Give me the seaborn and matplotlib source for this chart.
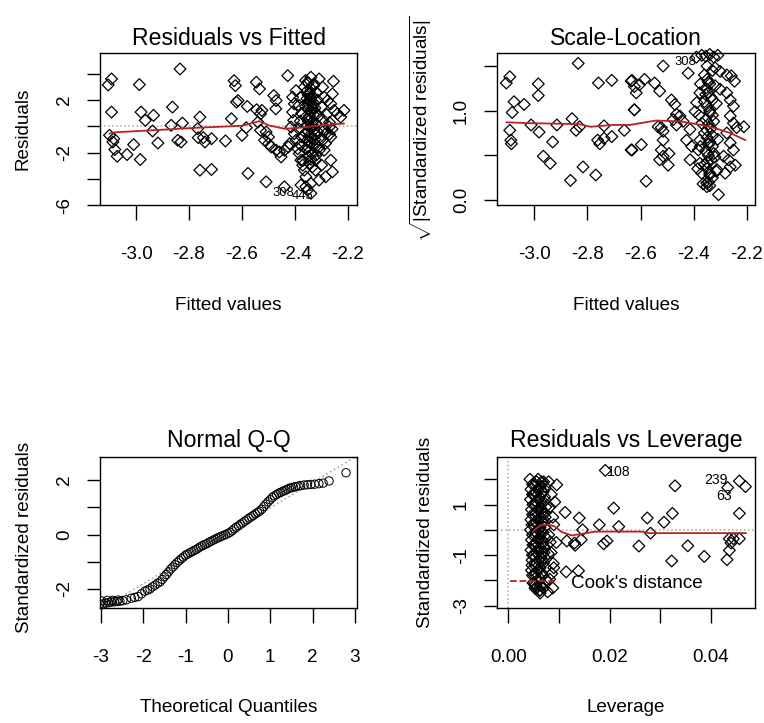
import matplotlib
matplotlib.use("Agg")
import matplotlib.pyplot as plt
from matplotlib import font_manager
from matplotlib.lines import Line2D
import seaborn as sns

# ---------------- data ----------------
# Panel 1: Residuals vs Fitted
rf_x = [-3.105, -3.0925, -3.0925, -3.10, -3.084, -3.0875, -3.08, -3.071, -3.034, -3.009,
        -2.984, -2.9875, -2.981, -2.965, -2.934, -2.9375, -2.9175, -2.8625, -2.8675, -2.825,
        -2.8425, -2.83, -2.834, -2.759, -2.7675, -2.765, -2.746, -2.74, -2.715, -2.6625,
        -2.759, -2.715, -2.64, -2.63, -2.625, -2.621,
        -2.615, -2.58, -2.546, -2.534, -2.545, -2.525, -2.53, -2.54, -2.584, -2.6,
        -2.53, -2.509, -2.5, -2.48, -2.471, -2.4725, -2.515, -2.5, -2.49, -2.471,
        -2.459, -2.4525, -2.44, -2.425, -2.42, -2.4275, -2.409, -2.396, -2.4025, -2.409,
        -2.405, -2.415, -2.4025, -2.396, -2.39, -2.384, -2.3775, -2.371, -2.365, -2.359,
        -2.3525, -2.34, -2.3275, -2.309, -2.296, -2.29, -2.2775, -2.255, -2.259, -2.265,
        -2.2525, -2.24, -2.215, -2.2275, -2.271, -2.284, -2.296, -2.265, -2.309, -2.29,
        -2.3225, -2.30, -2.265, -2.259, -2.284, -2.309, -2.3225, -2.5775, -2.509, -2.44,
        -2.3775, -2.359, -2.34, -2.3525, -2.34,
        -2.365, -2.355, -2.345, -2.335, -2.355, -2.345, -2.335, -2.36, -2.35, -2.34,
        -2.33, -2.36, -2.345, -2.335, -2.355, -2.34, -2.33, -2.36, -2.345, -2.335,
        -2.355, -2.34, -2.33, -2.36, -2.345, -2.335, -2.35, -2.34, -2.345, -2.335,
        -2.32, -2.315, -2.325, -2.31, -2.32, -2.315, -2.325, -2.31, -2.32,
        -2.38, -2.385, -2.375, -2.38, -2.385, -2.375, -2.38, -2.37,
        -2.30, -2.295, -2.29, -2.28, -2.27, -2.26, -2.30, -2.285, -2.27,
        -2.35, -2.34, -2.33, -2.36,
        -2.35, -2.34, -2.35, -2.34, -2.345, -2.35, -2.34, -2.35, -2.34, -2.345,
        -2.35, -2.34, -2.33, -2.325, -2.33, -2.325, -2.345, -2.335]
rf_y = [3.16, 3.62, 1.09, -0.68, -0.94, -1.19, -1.77, -2.28, -2.15, -1.39,
        -2.53, 3.19, 1.09, 0.46, 0.84, -0.35, -1.27, 1.47, 0.08, 0.25,
        -1.06, -1.19, 4.38, 0.71, -0.18, -0.86, -0.86, -1.19, -0.94, -1.11,
        -3.34, -3.29, 0.58, 3.49, 3.11, 1.85,
        1.97, 1.52, 3.37, 2.86, 1.27, 1.22, 0.96, 0.33, -0.10, -0.68,
        -0.30, -0.43, -0.81, 2.35, 1.97, 1.34, -1.06, -1.32, -1.57, -1.82,
        -1.95, -2.33, -1.82, -1.57, -1.32, 3.87, 2.23, 2.73, 1.72, 1.09,
        0.46, -0.05, -0.56, -1.06, -1.70, -2.08, -2.58, -2.96, -3.34, -3.85,
        3.37, 3.75, 3.24, 3.62, 2.99, 2.23, 1.97, 3.44, 2.48, 1.72,
        1.22, 0.96, 1.22, 0.71, -0.05, -0.56, -1.06, -0.81, -1.82, -1.82,
        -2.58, -2.96, -2.58, -3.47, -3.85, -4.10, -3.34, -3.59, -4.23, -4.61,
        -4.48, -4.61, -4.35, -4.86, -5.11,
        3.0, 2.7, 2.5, 2.3, 2.1, 1.9, 1.7, 1.5, 1.3, 1.1,
        0.9, 0.7, 0.5, 0.3, 0.1, -0.1, -0.3, -0.5, -0.7, -0.9,
        -1.1, -1.3, -1.5, -1.7, -1.9, -2.1, -2.3, -2.5, -2.8, -3.1,
        2.6, 2.0, 1.4, 0.8, 0.2, -0.4, -1.0, -1.6, -2.2,
        2.2, 1.6, 1.0, 0.4, -0.2, -0.8, -1.4, -2.6,
        1.5, 0.5, -0.3, 0.9, 0.3, -0.2, -0.9, -1.3, -0.6,
        3.3, 2.9, 3.1, 3.5,
        2.4, 2.0, 1.6, 1.2, 0.8, 0.4, 0.0, -0.4, -0.8, -1.2,
        -1.6, 2.2, 1.8, 1.0, 0.0, -0.6, 2.6, 1.4]
rf_smooth_x = [-3.10, -3.08, -2.94, -2.765, -2.65, -2.60, -2.534, -2.50, -2.44, -2.3775, -2.3025, -2.215]
rf_smooth_y = [-0.56, -0.45, -0.30, -0.10, 0.0, 0.05, 0.40, 0.08, -0.18, -0.10, 0.08, 0.22]
rf_labels = ["308", "445"]
rf_label_x = [-2.445, -2.37]
rf_label_y = [-5.1, -5.3]

# Panel 2: Scale-Location
sl_x = [-3.104, -3.091, -3.075, -3.082, -3.091, -3.087, -3.085, -3.037, -3.011, -2.984,
        -2.984, -2.981, -2.965, -2.939, -2.930, -2.914, -2.857, -2.863, -2.842, -2.829,
        -2.834, -2.816, -2.768, -2.758, -2.708, -2.737, -2.761, -2.753, -2.737, -2.708,
        -2.661, -2.632, -2.632, -2.623,
        -2.635, -2.623, -2.616, -2.585, -2.604, -2.547, -2.528, -2.515, -2.623, -2.597,
        -2.635, -2.579, -2.534, -2.522, -2.515, -2.515, -2.522, -2.515, -2.528, -2.496,
        -2.493, -2.484, -2.471, -2.465, -2.477, -2.452, -2.465, -2.440, -2.421, -2.414,
        -2.427, -2.408, -2.414, -2.389, -2.395, -2.377, -2.370, -2.377, -2.383, -2.377,
        -2.370, -2.351, -2.351, -2.307, -2.313, -2.282, -2.263, -2.244, -2.320, -2.301,
        -2.276, -2.259, -2.247, -2.301, -2.276, -2.263, -2.251, -2.263, -2.251, -2.239,
        -2.212, -2.276, -2.263, -2.251, -2.288, -2.270,
        -2.36, -2.35, -2.34, -2.355, -2.345, -2.335, -2.36, -2.35, -2.34, -2.33,
        -2.355, -2.345, -2.335, -2.36, -2.35, -2.34, -2.33, -2.355, -2.345, -2.335,
        -2.36, -2.35, -2.34, -2.33, -2.345, -2.32, -2.315, -2.325, -2.31, -2.32,
        -2.315, -2.375, -2.38, -2.375, -2.385, -2.365, -2.34, -2.33, -2.35,
        -2.39, -2.37, -2.355, -2.34, -2.325, -2.31,
        -2.345, -2.355, -2.34, -2.35, -2.345, -2.35, -2.34, -2.33, -2.33, -2.325]
sl_y = [1.31, 1.38, 1.10, 0.98, 0.78, 0.67, 0.63, 1.07, 0.84, 1.30,
        1.17, 0.76, 0.49, 0.41, 0.65, 0.84, 0.91, 0.22, 0.78, 0.82,
        1.53, 0.37, 0.28, 1.31, 1.34, 0.83, 0.67, 0.63, 0.69, 0.71,
        0.78, 0.56, 1.34, 1.01,
        1.33, 1.27, 1.20, 1.35, 1.29, 1.31, 1.22, 1.50, 1.01, 0.62,
        0.56, 0.21, 0.82, 0.81, 0.77, 0.67, 0.56, 0.49, 0.45, 0.39,
        0.52, 1.12, 1.07, 0.96, 0.90, 0.94, 0.84, 0.88, 1.42, 0.79,
        0.67, 0.60, 0.45, 1.09, 0.99, 1.20, 0.86, 0.67, 0.56, 0.41,
        0.30, 0.19, 0.15, 0.06, 0.34, 0.30, 0.37, 0.39, 1.48, 1.44,
        1.40, 1.39, 1.33, 1.24, 1.20, 1.12, 1.05, 0.94, 0.86, 0.81,
        0.82, 0.75, 0.64, 0.56, 0.49, 0.45,
        1.40, 1.35, 1.30, 1.25, 1.20, 1.15, 1.10, 1.05, 1.00, 0.95,
        0.90, 0.85, 0.80, 0.75, 0.70, 0.65, 0.60, 0.55, 0.50, 0.45,
        0.40, 0.35, 0.30, 0.25, 0.20, 1.28, 1.08, 0.88, 0.68, 0.48,
        0.32, 1.30, 0.95, 0.60, 0.35, 0.18, 0.16, 1.45, 1.50,
        1.60, 1.62, 1.61, 1.63, 1.60, 1.62,
        1.32, 1.18, 0.98, 0.78, 0.62, 0.42, 0.28, 1.12, 0.72, 0.52]
sl_smooth_x = [-3.104, -3.011, -2.832, -2.787, -2.705, -2.642, -2.541, -2.452, -2.389, -2.326, -2.263, -2.206]
sl_smooth_y = [0.87, 0.86, 0.85, 0.82, 0.84, 0.84, 0.89, 0.88, 0.85, 0.81, 0.75, 0.67]
sl_labels = ["308"]
sl_label_x = [-2.43]
sl_label_y = [1.55]

# Panel 3: Normal Q-Q
qq_x = [-3.03, -2.95, -2.88, -2.82, -2.75, -2.68, -2.62, -2.55, -2.48, -2.40,
        -2.98, -2.85, -2.72, -2.60,
        -2.28, -2.20, -2.12, -2.04, -1.96, -1.90, -1.84, -1.78, -1.72, -1.66,
        -1.60, -1.55, -1.50, -1.45, -1.40, -1.35, -1.30, -1.25, -1.20, -1.15,
        -1.10, -1.05, -1.00, -0.95, -0.90, -0.85, -0.80, -0.75, -0.70, -0.65,
        -0.60, -0.55, -0.50, -0.45, -0.40, -0.35, -0.30, -0.25, -0.20, -0.15,
        -0.10, -0.05, 0.00, 0.05, 0.10, 0.15, 0.20, 0.25, 0.30, 0.35,
        0.40, 0.45, 0.50, 0.55, 0.60, 0.65, 0.70, 0.75, 0.80, 0.85,
        0.90, 0.95, 1.00, 1.05, 1.10, 1.15, 1.20, 1.25, 1.30, 1.35,
        1.40, 1.45, 1.50, 1.55, 1.60, 1.66, 1.72, 1.80, 1.88, 1.96,
        2.05, 2.15, 2.25, 2.39, 2.79]
qq_y = [-2.56, -2.55, -2.52, -2.50, -2.48, -2.47, -2.46, -2.45, -2.43, -2.40,
        -2.44, -2.42, -2.42, -2.41,
        -2.34, -2.31, -2.28, -2.18, -2.08, -2.04, -2.00, -1.92, -1.86, -1.79,
        -1.74, -1.65, -1.55, -1.47, -1.37, -1.27, -1.19, -1.11, -1.03, -0.96,
        -0.89, -0.83, -0.76, -0.72, -0.67, -0.63, -0.59, -0.55, -0.50, -0.45,
        -0.41, -0.37, -0.34, -0.29, -0.25, -0.21, -0.17, -0.13, -0.10, -0.06,
        -0.03, 0.00, 0.04, 0.08, 0.14, 0.21, 0.27, 0.32, 0.38, 0.43,
        0.49, 0.54, 0.60, 0.65, 0.70, 0.76, 0.81, 0.86, 0.93, 1.03,
        1.12, 1.20, 1.28, 1.36, 1.42, 1.47, 1.52, 1.55, 1.59, 1.62,
        1.66, 1.70, 1.72, 1.74, 1.76, 1.78, 1.80, 1.82, 1.83, 1.84,
        1.85, 1.87, 1.89, 1.97, 2.27]
qq_line_intercept = 0.05
qq_line_slope = 0.93

# Panel 4: Residuals vs Leverage
lv_x = [0.01917, 0.00959, 0.01124, 0.01402, 0.01468, 0.01157, 0.01309, 0.01322, 0.01441, 0.01144,
        0.01388, 0.01798, 0.02083, 0.02182, 0.01884, 0.01950, 0.02579, 0.02744, 0.02810, 0.03074,
        0.03240, 0.03292, 0.03226, 0.03544, 0.03868, 0.04317, 0.04364, 0.04397, 0.04443, 0.04364,
        0.04562, 0.04562, 0.04331, 0.04562, 0.04681,
        0.0043, 0.0045, 0.0044, 0.0046, 0.0045, 0.0044, 0.0046, 0.0045, 0.0047, 0.0046,
        0.0052, 0.0051, 0.0053, 0.0052, 0.0051, 0.0053, 0.0052, 0.0051, 0.0053, 0.0052, 0.0053,
        0.0059, 0.0058, 0.0060, 0.0059, 0.0058, 0.0060, 0.0059, 0.0058, 0.0060, 0.0059, 0.0061, 0.0062,
        0.0066, 0.0067, 0.0065, 0.0066, 0.0067, 0.0065, 0.0066, 0.0067, 0.0065, 0.0066, 0.0064, 0.0063,
        0.0073, 0.0072, 0.0074, 0.0073, 0.0072, 0.0074, 0.0073, 0.0072, 0.0074, 0.0075,
        0.0080, 0.0085, 0.0082, 0.0088, 0.0080, 0.0085, 0.0090, 0.0082, 0.0088, 0.0078,
        0.0092, 0.0095, 0.0090, 0.0086, 0.0089, 0.0079, 0.0083, 0.0053, 0.0063, 0.0052,
        0.0048, 0.0048, 0.0049, 0.0048, 0.0047, 0.0048, 0.0049, 0.0048, 0.0047, 0.0048, 0.0049,
        0.0056, 0.0055, 0.0056, 0.0057, 0.0056, 0.0055, 0.0056, 0.0057, 0.0056, 0.0055, 0.0056,
        0.0063, 0.0062, 0.0063, 0.0064, 0.0063, 0.0062, 0.0063, 0.0064, 0.0063, 0.0062,
        0.0070, 0.0069, 0.0070, 0.0071, 0.0070, 0.0069, 0.0070, 0.0071, 0.0070, 0.0069, 0.0070]
lv_y = [2.35, 1.78, 0.69, 0.47, 0.0, -0.44, -0.52, -0.61, -0.39, -1.66,
        -1.62, 0.20, 0.86, 0.13, -0.55, -0.44, -0.64, 0.47, -0.13, 0.30,
        0.65, 1.74, -1.23, -0.63, -1.05, -1.18, -0.81, -0.52, -0.35, -0.35,
        0.65, -0.35, 1.67, 1.93, 1.71,
        2.0, 1.6, 1.2, 0.8, 0.4, 0.0, -0.4, -0.8, -1.2, -1.6,
        1.8, 1.4, 1.0, 0.6, 0.2, -0.2, -0.6, -1.0, -1.4, -1.8, -2.2,
        2.0, 1.6, 1.2, 0.8, 0.4, 0.0, -0.4, -0.8, -1.2, -1.6, -2.0, -2.4,
        1.9, 1.5, 1.1, 0.7, 0.3, -0.1, -0.5, -0.9, -1.3, -1.7, -2.2, -2.5,
        1.7, 1.3, 0.9, 0.5, 0.1, -0.3, -0.7, -1.1, -1.5, -2.0,
        1.9, 1.4, 0.9, 0.5, -0.2, -0.9, -1.5, -1.95, -2.3, -2.45,
        1.1, -0.5, 0.2, -1.73, -1.33, -0.94, -0.48, -2.31, -2.38, -2.12,
        1.8, 1.4, 1.0, 0.6, 0.2, -0.2, -0.6, -1.0, -1.4, -1.8, -2.1,
        1.9, 1.5, 1.1, 0.7, 0.3, -0.1, -0.5, -0.9, -1.3, -1.7, -2.3,
        1.7, 1.3, 0.9, 0.5, 0.1, -0.3, -0.7, -1.1, -1.5, -1.9,
        1.9, 1.5, 1.1, 0.7, 0.3, -0.1, -0.5, -0.9, -1.3, -1.8, -2.3]
lv_smooth_x = [0.00496, 0.00628, 0.00793, 0.00926, 0.01058, 0.01256, 0.01455, 0.01719, 0.02645, 0.02777, 0.04694]
lv_smooth_y = [-0.05, 0.17, 0.21, 0.13, -0.09, -0.22, -0.16, -0.07, -0.07, -0.13, -0.13]
lv_labels = ["108", "239", "63"]
lv_label_x = [0.0195, 0.0434, 0.0441]
lv_label_y = [2.30, 1.98, 1.33]

# ---------------- styling ----------------
sns.set_theme(style="white")
names = {f.name for f in font_manager.fontManager.ttflist}
if "Liberation Sans Narrow" in names:
    FONT = "Liberation Sans Narrow"
    SC = 1.0
else:
    FONT = "Liberation Sans"
    SC = 0.85
plt.rcParams["font.family"] = [FONT, "DejaVu Sans"]
plt.rcParams["mathtext.fontset"] = "custom"
plt.rcParams["mathtext.rm"] = FONT
plt.rcParams["mathtext.it"] = FONT
plt.rcParams["axes.edgecolor"] = "black"
plt.rcParams["axes.linewidth"] = 1.0
plt.rcParams["text.color"] = "black"
plt.rcParams["axes.labelcolor"] = "black"
plt.rcParams["axes.titlecolor"] = "black"
plt.rcParams["xtick.color"] = "black"
plt.rcParams["ytick.color"] = "black"
plt.rcParams["xtick.labelcolor"] = "black"
plt.rcParams["ytick.labelcolor"] = "black"

TITLE = 19.5 * SC
TICK = 16 * SC
LAB = 16 * SC
RED = "#B82222"
GREY = "#A8A8A8"

W, H = 764, 723
fig = plt.figure(figsize=(W / 100, H / 100), dpi=100)
fig.patch.set_facecolor("white")


def add_ax(l, r, t, b):
    return fig.add_axes([l / W, 1 - b / H, (r - l) / W, (b - t) / H])


ax1 = add_ax(100, 357, 53, 205)
ax2 = add_ax(497, 755, 53, 205)
ax3 = add_ax(100, 357, 457, 608)
ax4 = add_ax(497, 755, 457, 608)

pt_kw = dict(marker="D", s=36, facecolor="none", edgecolor="black", linewidth=0.9, legend=False)


def style(ax, xt, xtl, yt, ytl, xlim, ylim, title, xlabel, ylabel, ylab_x, ylab_y=0.5, tpad=5.5):
    ax.set_xlim(*xlim)
    ax.set_ylim(*ylim)
    ax.set_xticks(xt)
    ax.set_xticklabels(xtl, fontsize=TICK, color="black")
    ax.set_yticks(yt)
    ax.set_yticklabels(ytl, fontsize=TICK, rotation=90, va="center", color="black")
    ax.tick_params(axis="x", direction="out", length=10.8, width=1.0, pad=19, color="black")
    ax.tick_params(axis="y", direction="out", length=9.1, width=1.0, pad=10.5, color="black")
    ax.tick_params(bottom=True, left=True)
    for s in ax.spines.values():
        s.set_visible(True)
        s.set_color("black")
    ax.set_title(title, fontsize=TITLE, pad=tpad, color="black")
    ax.set_xlabel(xlabel, fontsize=LAB, va="center", color="black")
    ax.xaxis.set_label_coords(0.5, -0.66)
    ax.set_ylabel(ylabel, fontsize=LAB, va="center", color="black")
    ax.yaxis.set_label_coords(ylab_x, ylab_y)
    ax.grid(False)


# Panel 1
ax1.axhline(0, color=GREY, linestyle=":", linewidth=1.1, zorder=1)
sns.scatterplot(x=rf_x, y=rf_y, ax=ax1, **pt_kw)
sns.lineplot(x=rf_smooth_x, y=rf_smooth_y, ax=ax1, color=RED, linewidth=1.3,
             estimator=None, sort=False, legend=False)
for t, x, y in zip(rf_labels, rf_label_x, rf_label_y):
    ax1.text(x, y, t, fontsize=11 * SC, ha="center", va="center")
style(ax1, [-3.0, -2.8, -2.6, -2.4, -2.2], ["-3.0", "-2.8", "-2.6", "-2.4", "-2.2"],
      [-6, -4, -2, 0, 2, 4], ["-6", "", "-2", "", "2", ""],
      (-3.136, -2.166), (-6.0, 5.6), "Residuals vs Fitted", "Fitted values", "Residuals", -0.30)

# Panel 2
sns.scatterplot(x=sl_x, y=sl_y, ax=ax2, clip_on=False, **pt_kw)
sns.lineplot(x=sl_smooth_x, y=sl_smooth_y, ax=ax2, color=RED, linewidth=1.3,
             estimator=None, sort=False, legend=False)
for t, x, y in zip(sl_labels, sl_label_x, sl_label_y):
    ax2.text(x, y, t, fontsize=11 * SC, ha="center", va="center")
style(ax2, [-3.0, -2.8, -2.6, -2.4, -2.2], ["-3.0", "-2.8", "-2.6", "-2.4", "-2.2"],
      [0.0, 0.5, 1.0, 1.5], ["0.0", "", "1.0", ""],
      (-3.139, -2.17), (-0.056, 1.646), "Scale-Location", "Fitted values",
      r"$\sqrt{|\mathrm{Standardized\ residuals}|}$", -0.295)

# Panel 3
ax3.axline((0, qq_line_intercept), slope=qq_line_slope, color=GREY, linestyle=":", linewidth=1.2, zorder=1)
sns.scatterplot(x=qq_x, y=qq_y, ax=ax3, marker="o", s=36, facecolor="none",
                edgecolor="black", linewidth=0.7, legend=False)
style(ax3, [-3, -2, -1, 0, 1, 2, 3], ["-3", "-2", "-1", "0", "1", "2", "3"],
      [-2, -1, 0, 1, 2], ["-2", "", "0", "", "2"],
      (-3.02, 3.05), (-2.7, 2.85), "Normal Q-Q", "Theoretical Quantiles",
      "Standardized residuals", -0.292, 0.47, tpad=7.5)

# Panel 4
ax4.axhline(0, color=GREY, linestyle=":", linewidth=1.1, zorder=1)
ax4.axvline(0, color=GREY, linestyle=":", linewidth=1.1, zorder=1)
sns.scatterplot(x=lv_x, y=lv_y, ax=ax4, **pt_kw)
sns.lineplot(x=lv_smooth_x, y=lv_smooth_y, ax=ax4, color=RED, linewidth=1.3,
             estimator=None, sort=False, legend=False)
ax4.text(lv_label_x[0], lv_label_y[0], lv_labels[0], fontsize=12 * SC, ha="left", va="center")
ax4.text(lv_label_x[1], lv_label_y[1], lv_labels[1], fontsize=12 * SC, ha="right", va="center")
ax4.text(lv_label_x[2], lv_label_y[2], lv_labels[2], fontsize=12 * SC, ha="right", va="center")
leg = ax4.legend(handles=[Line2D([0], [0], color=RED, linestyle="--", linewidth=1.3)],
                 labels=["Cook's distance"], loc="lower left", frameon=False,
                 fontsize=LAB, handlelength=2.4, handletextpad=0.8,
                 borderaxespad=0.3, bbox_to_anchor=(0.0, 0.02))
for txt in leg.get_texts():
    txt.set_color("black")
style(ax4, [0.0, 0.01, 0.02, 0.03, 0.04], ["0.00", "", "0.02", "", "0.04"],
      [-3, -2, -1, 0, 1, 2], ["-3", "", "-1", "", "1", ""],
      (-0.0022, 0.0487), (-3.09, 2.88), "Residuals vs Leverage", "Leverage",
      "Standardized residuals", -0.279, tpad=7.5)

fig.savefig("out.png", dpi=100, facecolor="white")
